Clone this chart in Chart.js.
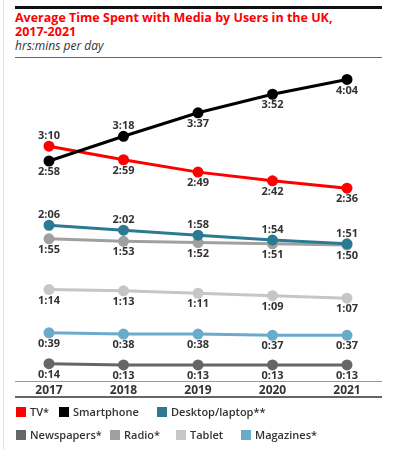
<!DOCTYPE html>
<html>
<head>
<meta charset="utf-8">
<script src="https://cdn.jsdelivr.net/npm/chart.js@4.4.1/dist/chart.umd.min.js"></script>
<style>
  html, body { margin: 0; padding: 0; background: #fff; }
  body { width: 396px; height: 450px; position: relative; overflow: hidden; font-family: "Open Sans", sans-serif; }
  .edge { position: absolute; left: 3px; top: 0; width: 1px; height: 450px; background: #e2e2e2; }
  .rule { position: absolute; left: 15px; width: 367px; }
  .title { position: absolute; left: 15px; top: 11px; color: #f00; font-weight: bold; font-size: 12.5px; line-height: 14px; }
  .sub { position: absolute; left: 15px; top: 37px; color: #333; font-style: italic; font-size: 12px; }
  #wrap { position: absolute; left: 0; top: 60px; width: 396px; height: 340px; }
  .legend { position: absolute; left: 0; font-size: 11px; font-weight: 600; color: #333; }
  .item { position: absolute; white-space: nowrap; }
  .item span { display: inline-block; width: 10px; height: 10px; margin-right: 4px; vertical-align: -1px; }
</style>
</head>
<body>
<div class="edge"></div>
<div class="rule" style="top:6px;height:3px;background:#111"></div>
<div class="title">Average Time Spent with Media by Users in the UK,<br>2017-2021</div>
<div class="sub">hrs:mins per day</div>
<div class="rule" style="top:57px;height:1px;background:#666"></div>
<div id="wrap"><canvas id="chart" width="396" height="340"></canvas></div>
<div class="rule" style="top:381px;height:1px;background:#999"></div>
<div class="rule" style="top:396px;height:2px;background:#666"></div>
<div id="legend"></div>
<script>
// minutes per day
const years = ['2017', '2018', '2019', '2020', '2021'];
const tv = [190, 179, 169, 162, 156];
const smartphone = [178, 198, 217, 232, 244];
const desktop = [126, 122, 118, 114, 111];
const newspapers = [14, 13, 13, 13, 13];
const radio = [115, 113, 112, 111, 110];
const tablet = [74, 73, 71, 69, 67];
const magazines = [39, 38, 38, 37, 37];

// where the value label sits for each point: 1 above, -1 below
const labelSide = {
    'TV*': [1, -1, -1, -1, -1],
    'Smartphone': [-1, 1, -1, -1, -1],
    'Desktop/laptop**': [1, 1, 1, 1, 1],
    'Newspapers*': [-1, -1, -1, -1, -1],
    'Radio*': [-1, -1, -1, -1, -1],
    'Tablet': [-1, -1, -1, -1, -1],
    'Magazines*': [-1, -1, -1, -1, -1]
};

const series = [
    { label: 'TV*', data: tv, color: '#ff0000', order: 1 },
    { label: 'Smartphone', data: smartphone, color: '#000000', order: 0 },
    { label: 'Desktop/laptop**', data: desktop, color: '#2b7a92', order: 2 },
    { label: 'Newspapers*', data: newspapers, color: '#666666', order: 6 },
    { label: 'Radio*', data: radio, color: '#a0a0a0', order: 3 },
    { label: 'Tablet', data: tablet, color: '#c6c6c6', order: 5 },
    { label: 'Magazines*', data: magazines, color: '#6aabcc', order: 4 }
];

const fmt = m => Math.floor(m / 60) + ':' + String(m % 60).padStart(2, '0');

const valueLabels = {
    id: 'valueLabels',
    afterDatasetsDraw(chart) {
        const ctx = chart.ctx;
        ctx.save();
        ctx.font = 'bold 11px "Open Sans", sans-serif';
        ctx.fillStyle = '#333';
        ctx.textAlign = 'center';
        ctx.textBaseline = 'middle';
        chart.data.datasets.forEach((ds, i) => {
            const meta = chart.getDatasetMeta(i);
            const sides = labelSide[ds.label];
            meta.data.forEach((pt, j) => {
                const dy = sides[j] > 0 ? -10 : 11;
                ctx.fillText(fmt(ds.data[j]), pt.x, pt.y + dy);
            });
        });
        ctx.restore();
    }
};

new Chart(document.getElementById('chart').getContext('2d'), {
    type: 'line',
    data: {
        labels: years,
        datasets: series.map(s => ({
            label: s.label,
            data: s.data,
            order: s.order,
            borderColor: s.color,
            backgroundColor: s.color,
            borderWidth: 3,
            pointRadius: 4,
            pointHoverRadius: 4,
            tension: 0
        }))
    },
    options: {
        responsive: false,
        animation: false,
        layout: { padding: { left: 49, right: 49, top: 12, bottom: 0 } },
        plugins: { legend: { display: false }, tooltip: { enabled: false } },
        scales: {
            x: {
                offset: false,
                grid: { display: false, drawTicks: false },
                border: { display: false },
                ticks: { color: '#333', padding: 2, font: { family: '"Open Sans", sans-serif', size: 12, weight: 'bold' } },
                afterFit: scale => { scale.height = 19; }
            },
            y: {
                display: false,
                min: 0,
                max: 250
            }
        }
    },
    plugins: [valueLabels]
});

// legend, two rows like the original
const legendRows = [
    { top: 404, items: [[0, 16], [1, 59], [2, 157]] },
    { top: 427, items: [[3, 16], [4, 110], [5, 176], [6, 241]] }
];
const legend = document.getElementById('legend');
legendRows.forEach(row => {
    row.items.forEach(([idx, x]) => {
        const div = document.createElement('div');
        div.className = 'item legend';
        div.style.left = x + 'px';
        div.style.top = row.top + 'px';
        div.innerHTML = '<span style="background:' + series[idx].color + '"></span>' + series[idx].label;
        legend.appendChild(div);
    });
});
</script>
</body>
</html>
